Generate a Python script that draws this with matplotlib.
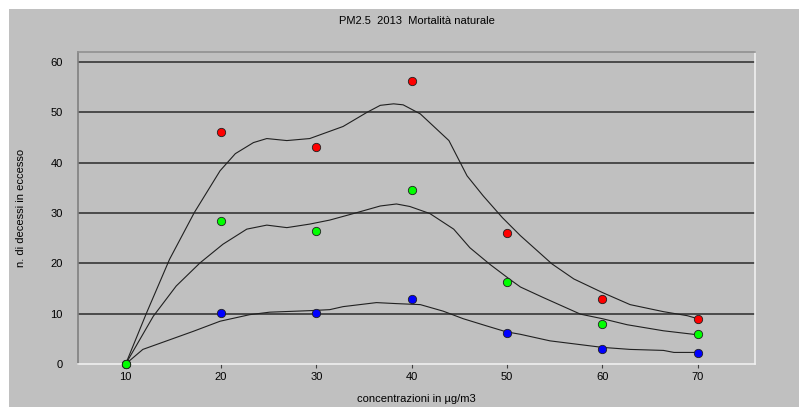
import matplotlib.pyplot as plt
import matplotlib
from matplotlib.patches import Rectangle

matplotlib.rc("font", family=['Liberation Sans', 'DejaVu Sans'])

# osservazioni: decessi in eccesso per classe di concentrazione
conc = [10, 20, 30, 40, 50, 60, 70]
rossi = [0, 46.2, 43.1, 56.2, 26.1, 13.0, 9.0]
verdi = [0, 28.4, 26.4, 34.5, 16.2, 7.9, 5.9]
blu = [0, 10.1, 10.1, 13.0, 6.1, 3.0, 2.1]

# curve di adattamento (letti per punti)
x_rosso = [10, 12.2, 14.6, 17.2, 19.9, 21.5, 23.4, 24.8, 26.9, 29.3, 32.8, 35.3, 36.7, 38.1,
           39.1, 40.9, 43.9, 45.8, 47.5, 49.5, 51.4, 54.7, 57.0, 60.0, 62.9, 66.4, 68.9, 70]
y_rosso = [0, 10.2, 20.8, 30.1, 38.4, 41.8, 44.0, 44.8, 44.4, 44.8, 47.2, 50.0, 51.4, 51.7,
           51.5, 49.7, 44.4, 37.4, 33.4, 29.1, 25.5, 19.9, 16.9, 14.2, 11.8, 10.4, 9.6, 9.0]
x_verde = [10, 12.9, 15.3, 17.8, 20.2, 22.7, 24.8, 26.9, 29.3, 31.4, 33.9, 36.7, 38.4, 39.8,
           41.9, 44.4, 46.1, 48.2, 50.3, 51.4, 53.8, 57.7, 60.0, 62.6, 66.4, 70]
y_verde = [0, 9.5, 15.5, 20.1, 23.8, 26.8, 27.6, 27.1, 27.8, 28.6, 29.9, 31.4, 31.8, 31.3,
           29.9, 26.8, 23.1, 19.8, 16.8, 15.3, 13.2, 9.9, 9.0, 7.8, 6.6, 5.8]
x_blu = [10, 11.8, 14.6, 17.1, 19.9, 23.0, 25.1, 29.3, 31.4, 32.8, 36.3, 38.4, 40.9, 43.3,
         45.4, 47.8, 49.9, 51.4, 54.5, 60.0, 62.9, 66.4, 67.5, 70]
y_blu = [0, 2.9, 4.8, 6.5, 8.5, 9.8, 10.3, 10.6, 10.8, 11.4, 12.2, 12.0, 11.8, 10.5,
         9.0, 7.6, 6.4, 5.9, 4.6, 3.3, 2.9, 2.7, 2.3, 2.3]

grigio = '#c0c0c0'
W, H = 799, 407
fig = plt.figure(figsize=(W / 100, H / 100), dpi=100, facecolor='white')
# riquadro grigio del grafico
fig.patches.append(Rectangle((9 / W, 0), 1, 1 - 9 / H, transform=fig.transFigure,
                             facecolor=grigio, edgecolor='none', zorder=-1))

L, R, T, B = 78, 755, 52, 364
ax = fig.add_axes([L / W, 1 - B / H, (R - L) / W, (B - T) / H])
ax.set_facecolor(grigio)
ax.set_xlim(5, 76)
ax.set_ylim(0, 62)

for v in range(10, 70, 10):
    ax.axhline(v, color='#2a2a2a', lw=1.1, zorder=1)

for xs, ys in [(x_rosso, y_rosso), (x_verde, y_verde), (x_blu, y_blu)]:
    ax.plot(xs, ys, color='#202020', lw=0.8, zorder=2)

# il verde per ultimo, sopra agli altri nel punto comune a 10
for ys, c in [(blu, '#0000ff'), (rossi, '#ff0000'), (verdi, '#00ff00')]:
    ax.plot(conc, ys, 'o', color=c, markersize=6, markeredgecolor='#202020',
            markeredgewidth=0.6, zorder=3, clip_on=False)

# bordo in rilievo
ax.spines['left'].set_color('#808080')
ax.spines['top'].set_color('#909090')
ax.spines['right'].set_color('#f0f0f0')
ax.spines['bottom'].set_color('#f0f0f0')
for s in ax.spines.values():
    s.set_linewidth(1.2)

ax.set_xticks(conc)
ax.set_yticks(range(0, 70, 10))
ax.tick_params(axis='x', length=3, width=0.8, color='#404040', labelsize=8, pad=3)
ax.tick_params(axis='y', length=0, labelsize=8, pad=11)

fig.text((L + R) / 2 / W, 1 - 21 / H, 'PM2.5  2013  Mortalità naturale',
         ha='center', va='center', fontsize=8)
fig.text((L + R) / 2 / W, 1 - 399 / H, 'concentrazioni in µg/m3',
         ha='center', va='center', fontsize=8)
fig.text(21 / W, 1 - 208 / H, 'n. di decessi in eccesso', rotation=90,
         ha='center', va='center', fontsize=8)

plt.savefig('out.png', dpi=100, facecolor=fig.get_facecolor())
